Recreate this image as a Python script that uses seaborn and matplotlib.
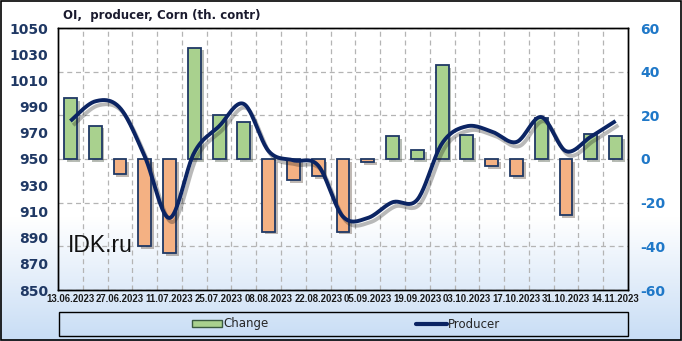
import numpy as np
import pandas as pd
import matplotlib
matplotlib.use("Agg")
import matplotlib.pyplot as plt
import matplotlib.patheffects as pe
from matplotlib.patches import Rectangle
from matplotlib.lines import Line2D
import seaborn as sns

# ---------------- data ----------------
dates = ["13.06.2023", "20.06.2023", "27.06.2023", "04.07.2023", "11.07.2023",
         "18.07.2023", "25.07.2023", "01.08.2023", "08.08.2023", "15.08.2023",
         "22.08.2023", "29.08.2023", "05.09.2023", "12.09.2023", "19.09.2023",
         "26.09.2023", "03.10.2023", "10.10.2023", "17.10.2023", "24.10.2023",
         "31.10.2023", "07.11.2023", "14.11.2023"]
change = [28.0, 15.3, -6.9, -40.0, -43.2, 51.0, 20.0, 17.0, -33.3, -9.5,
          -8.0, -33.3, -1.6, 10.4, 4.3, 42.9, 10.9, -3.1, -8.0, 18.9,
          -25.6, 11.6, 10.4]
producer = [979, 994, 989, 952, 905, 955, 975, 992, 956, 949,
            945, 906, 905, 917, 919, 962, 975, 971, 963, 982,
            956, 967, 979]
left_ticks = [850, 870, 890, 910, 930, 950, 970, 990, 1010, 1030, 1050]
right_ticks = [-60, -40, -20, 0, 20, 40, 60]

title = "OI,  producer, Corn (th. contr)"

# ---------------- style ----------------
sns.set_theme(style="white")
plt.rcParams["font.family"] = ["DejaVu Sans"]
plt.rcParams["axes.unicode_minus"] = False

W, H = 682, 341
fig = plt.figure(figsize=(W / 100, H / 100), dpi=100)

# background gradient
bg = fig.add_axes([0, 0, 1, 1], zorder=-10)
grad = np.ones((200, 1, 3))
top = np.array([1.0, 1.0, 1.0])
bot = np.array([0xc8, 0xdd, 0xf5]) / 255.0
fr = np.linspace(1, 0, 200)  # image row 0 = top
for i, f in enumerate(fr):
    t = np.clip((0.36 - f) / 0.36, 0, 1)
    grad[i, 0, :] = top * (1 - t) + bot * t
bg.imshow(grad, aspect="auto", extent=[0, 1, 0, 1])
bg.set_xlim(0, 1); bg.set_ylim(0, 1)
bg.axis("off")

x0, x1 = 58 / W, 628 / W
y0, y1 = 1 - 290 / H, 1 - 28 / H
ax = fig.add_axes([x0, y0, x1 - x0, y1 - y0])
ax2 = ax.twinx()
ax.set_zorder(ax2.get_zorder() + 1)
ax.patch.set_visible(False)
ax2.patch.set_visible(False)

# ---------------- bars (right axis) ----------------
df = pd.DataFrame({"date": dates, "change": change,
                   "sign": ["pos" if v >= 0 else "neg" for v in change]})
green = "#a9d18e"
orange = "#f4b183"
sns.barplot(data=df, x="date", y="change", hue="sign", order=dates,
            palette={"pos": green, "neg": orange}, dodge=False, width=0.52,
            saturation=1, edgecolor="#1f3864", linewidth=1.3, legend=False,
            ax=ax2, zorder=3)
for p in ax2.patches:
    p.set_path_effects([pe.SimplePatchShadow(offset=(2, -2), alpha=0.35),
                        pe.Normal()])

ax2.set_ylim(-60, 60)
ax2.set_yticks(right_ticks)
ax2.set_yticklabels([str(t) for t in right_ticks])
ax2.tick_params(axis="y", length=0, pad=9, labelsize=10,
                labelcolor="#1f78c8")
for lab in ax2.get_yticklabels():
    lab.set_fontweight("bold")
ax2.set_ylabel("")
ax2.set_xlabel("")

# grid (vertical lines between categories, horizontal at right-axis ticks)
ax2.xaxis.set_visible(True)
ax2.set_xticks(np.arange(0.5, len(dates) - 1, 1), minor=True)
ax2.tick_params(axis="x", which="both", length=0, labelbottom=False,
                labeltop=False)
ax2.grid(True, which="major", axis="y", color="#b4b4b4", linestyle=(0, (4, 3)),
         linewidth=0.9, zorder=0)
ax2.grid(True, which="minor", axis="x", color="#b4b4b4", linestyle=(0, (4, 3)),
         linewidth=0.9, zorder=0)
ax2.grid(False, which="major", axis="x")
ax2.set_axisbelow(True)

# ---------------- smoothed line (left axis) ----------------
def catmull_rom(ys, n=24):
    xs = np.arange(len(ys), dtype=float)
    pts = np.column_stack([xs, np.asarray(ys, dtype=float)])
    out = []
    for i in range(len(pts) - 1):
        p0 = pts[i - 1] if i > 0 else pts[i]
        p1, p2 = pts[i], pts[i + 1]
        p3 = pts[i + 2] if i + 2 < len(pts) else pts[i + 1]
        t = np.linspace(0, 1, n, endpoint=False)[:, None]
        seg = 0.5 * ((2 * p1) + (-p0 + p2) * t +
                     (2 * p0 - 5 * p1 + 4 * p2 - p3) * t ** 2 +
                     (-p0 + 3 * p1 - 3 * p2 + p3) * t ** 3)
        out.append(seg)
    out.append(pts[-1][None, :])
    return np.vstack(out)

curve = catmull_rom(producer)
dfl = pd.DataFrame({"x": curve[:, 0], "y": curve[:, 1]})
sns.lineplot(data=dfl, x="x", y="y", sort=False, estimator=None, ax=ax,
             color="#0b2463", linewidth=2.8, solid_capstyle="butt",
             path_effects=[pe.SimpleLineShadow(offset=(2, -3), alpha=0.3),
                           pe.Normal()])

ax.set_ylim(850, 1050)
ax.set_yticks(left_ticks)
ax.tick_params(axis="y", length=0, pad=7, labelsize=10, labelcolor="#1f3864")
for lab in ax.get_yticklabels():
    lab.set_fontweight("bold")
ax.set_ylabel("")
ax.set_xlabel("")

ax.set_xlim(-0.5, len(dates) - 0.5)
ax2.set_xlim(-0.5, len(dates) - 0.5)
ax.set_xticks(range(0, len(dates), 2))
ax.set_xticklabels(dates[::2])
ax.tick_params(axis="x", length=0, pad=3, labelsize=6.9, labelcolor="#1a1a1a")
for lab in ax.get_xticklabels():
    lab.set_fontweight("bold")
    lab.set_family("Liberation Sans")

for a in (ax, ax2):
    for s in a.spines.values():
        s.set_color("black")
        s.set_linewidth(1.0)
        s.set_visible(True)

# ---------------- texts ----------------
fig.text(63 / W, 1 - 15 / H, title, ha="left", va="center",
         fontsize=8.5, fontweight="bold", color="#1a1a2e")
ax.text(0.017, 0.17, "IDK.ru", transform=ax.transAxes, ha="left", va="center",
        fontsize=16.5, family="Liberation Sans", color="#111111")

# legend box
fig.add_artist(Rectangle((59 / W, 1 - 336 / H), (628 - 59) / W, 24 / H,
                         transform=fig.transFigure, fill=False,
                         edgecolor="black", linewidth=1.0))
handles = [Rectangle((0, 0), 1, 1, facecolor=green, edgecolor="#3a5a40",
                     linewidth=1.0),
           Line2D([0], [0], color="#0b2463", linewidth=3)]
fig.legend(handles, ["Change", "Producer"], loc="center",
           bbox_to_anchor=(346 / W, 1 - 324 / H), ncol=2, frameon=False,
           fontsize=8.5, handlelength=2.6, handleheight=0.5, handletextpad=0.1,
           columnspacing=12.5)

# outer border
fig.add_artist(Rectangle((0.001, 0.002), 0.997, 0.996, transform=fig.transFigure,
                         fill=False, edgecolor="black", linewidth=1.2))

fig.savefig("out.png", dpi=100)
